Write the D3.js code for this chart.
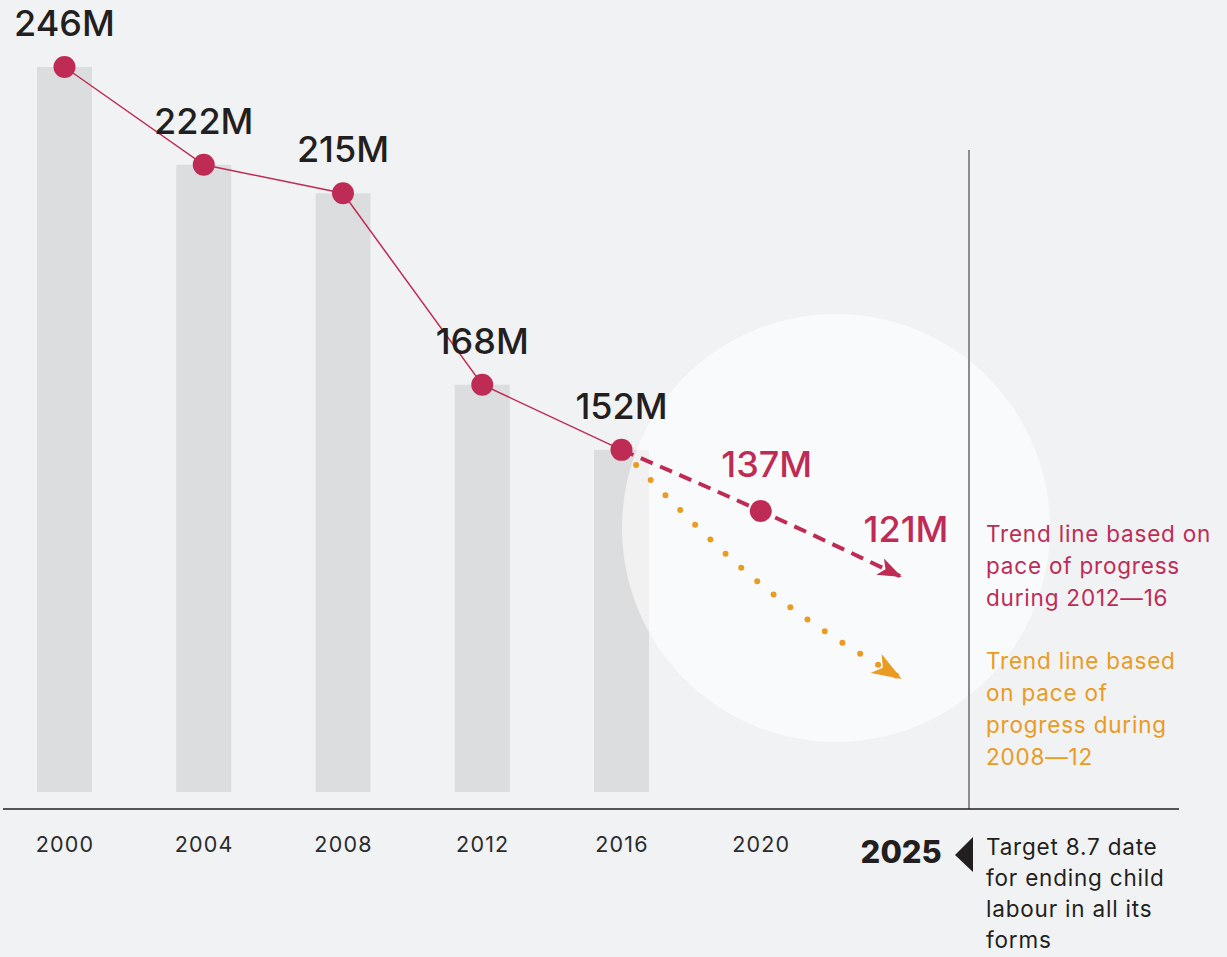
<!DOCTYPE html>
<html>
<head>
<meta charset="utf-8">
<script src="https://cdn.jsdelivr.net/npm/d3@7"></script>
<style>
  html, body { margin: 0; padding: 0; background: #f1f2f4; }
  svg { display: block; font-family: Inter, "Open Sans", sans-serif; }
</style>
</head>
<body>
<svg id="chart" width="1227" height="957"></svg>
<script>
// ---- data ----
const years = [2000, 2004, 2008, 2012, 2016];
const values = [246, 222, 215, 168, 152];
const valueLabels = ["246M", "222M", "215M", "168M", "152M"];
const tickYears = [2000, 2004, 2008, 2012, 2016, 2020];
const redTrendYears = [2016, 2020, 2024];
const redTrendValues = [152, 137, 121];
const redTrendLabels = ["", "137M", "121M"];
const orangeTrendYears = [2016, 2020, 2024];
const orangeTrendValues = [152, 119, 96];
const targetYear = 2025;
const redNote = ["Trend line based on", "pace of progress", "during 2012\u201416"];
const orangeNote = ["Trend line based", "on pace of", "progress during", "2008\u201412"];
const targetNote = ["Target 8.7 date", "for ending child", "labour in all its", "forms"];

// ---- style ----
const RED = "#be2c55", ORANGE = "#e99b22", DARK = "#231f20", BAR = "#dcdddf";

const svg = d3.select("#chart");
svg.append("rect").attr("width", 1227).attr("height", 957).attr("fill", "#f1f2f4");

const x = d3.scaleLinear().domain([2000, 2016]).range([64.5, 621.5]);
const y = d3.scaleLinear().domain([68, 246]).range([792, 67]);
const barW = 55;

// defs: arrow markers
const defs = svg.append("defs");
defs.append("marker").attr("id", "arrRed")
  .attr("markerUnits", "userSpaceOnUse").attr("viewBox", "0 0 24 18")
  .attr("markerWidth", 24).attr("markerHeight", 18).attr("refX", 22).attr("refY", 9)
  .attr("orient", "auto")
  .append("path").attr("d", "M0,0 L24,9 L0,18 L6,9 Z").attr("fill", RED);
defs.append("marker").attr("id", "arrOrange")
  .attr("markerUnits", "userSpaceOnUse").attr("viewBox", "0 0 30 22")
  .attr("markerWidth", 30).attr("markerHeight", 22).attr("refX", 28).attr("refY", 11)
  .attr("orient", "auto")
  .append("path").attr("d", "M0,0 L30,11 L0,22 L8,11 Z").attr("fill", ORANGE);

// bars
svg.append("g").selectAll("rect").data(years).join("rect")
  .attr("x", (d) => x(d) - barW / 2)
  .attr("y", (d, i) => y(values[i]))
  .attr("width", barW)
  .attr("height", (d, i) => y.range()[0] - y(values[i]))
  .attr("fill", BAR);

// highlight circle
svg.append("circle").attr("cx", 836).attr("cy", 528).attr("r", 214)
  .attr("fill", "#ffffff").attr("fill-opacity", 0.6);

// separator line
svg.append("line").attr("x1", 969).attr("x2", 969).attr("y1", 150).attr("y2", 809)
  .attr("stroke", "#8c8c8c").attr("stroke-width", 2);

// axis
const axisG = svg.append("g").attr("transform", "translate(0,809)")
  .call(d3.axisBottom(x).tickValues(tickYears).tickFormat(d3.format("d")).tickSize(0));
axisG.select(".domain").remove();
axisG.selectAll("text")
  .attr("y", 43).attr("dy", 0)
  .attr("font-family", "Inter, sans-serif").attr("font-size", 21.5)
  .attr("letter-spacing", 1.2)
  .attr("fill", "#2b2b2b");
svg.append("line").attr("x1", 3).attr("x2", 1179).attr("y1", 809).attr("y2", 809)
  .attr("stroke", DARK).attr("stroke-width", 1.5);

// main line
const lineGen = d3.line().x((d) => x(d[0])).y((d) => y(d[1]));
svg.append("path").datum(years.map((d, i) => [d, values[i]]))
  .attr("d", lineGen).attr("fill", "none").attr("stroke", RED).attr("stroke-width", 1.5);

// orange trend (dotted)
const curveGen = d3.line().x((d) => x(d[0])).y((d) => y(d[1])).curve(d3.curveMonotoneX);
svg.append("path").datum(orangeTrendYears.map((d, i) => [d, orangeTrendValues[i]]))
  .attr("d", curveGen).attr("fill", "none").attr("stroke", ORANGE)
  .attr("stroke-width", 6).attr("stroke-linecap", "round")
  .attr("stroke-dasharray", "0 21").attr("stroke-dashoffset", -21)
  .attr("marker-end", "url(#arrOrange)");

// red trend (dashed)
svg.append("path").datum(redTrendYears.map((d, i) => [d, redTrendValues[i]]))
  .attr("d", curveGen).attr("fill", "none").attr("stroke", RED)
  .attr("stroke-width", 4).attr("stroke-dasharray", "13 8")
  .attr("marker-end", "url(#arrRed)");

// dots
svg.append("g").selectAll("circle").data(years).join("circle")
  .attr("cx", (d) => x(d)).attr("cy", (d, i) => y(values[i])).attr("r", 11).attr("fill", RED);
svg.append("circle").attr("cx", x(redTrendYears[1])).attr("cy", y(redTrendValues[1]))
  .attr("r", 11).attr("fill", RED);

// value labels
svg.append("g").selectAll("text").data(years).join("text")
  .attr("x", (d) => x(d)).attr("y", (d, i) => y(values[i]) - 31)
  .attr("text-anchor", "middle").attr("font-size", 36).attr("font-weight", 500)
  .attr("fill", DARK).text((d, i) => valueLabels[i]);
svg.append("g").selectAll("text").data(redTrendYears.slice(1)).join("text")
  .attr("x", (d) => x(d) + 6).attr("y", (d, i) => y(redTrendValues[i + 1]) - 34)
  .attr("text-anchor", "middle").attr("font-size", 36).attr("font-weight", 500)
  .attr("fill", RED).text((d, i) => redTrendLabels[i + 1]);

// notes
function note(lines, x0, y0, color, lh) {
  const t = svg.append("text").attr("x", x0).attr("y", y0)
    .attr("font-size", 22.5).attr("letter-spacing", 0.8).attr("fill", color);
  lines.forEach((l, i) => t.append("tspan").attr("x", x0).attr("dy", i === 0 ? 0 : lh).text(l));
}
note(redNote, 986, 542, RED, 32);
note(orangeNote, 986, 669, ORANGE, 32);
note(targetNote, 986, 855, DARK, 31);

// 2025 target marker
svg.append("text").attr("x", x(targetYear) + 7).attr("y", 863)
  .attr("text-anchor", "end").attr("font-size", 31).attr("font-weight", 800)
  .attr("fill", DARK).text(targetYear);
svg.append("path").attr("d", "M955,855 L973,837 L973,872 Z").attr("fill", DARK);
</script>
</body>
</html>
